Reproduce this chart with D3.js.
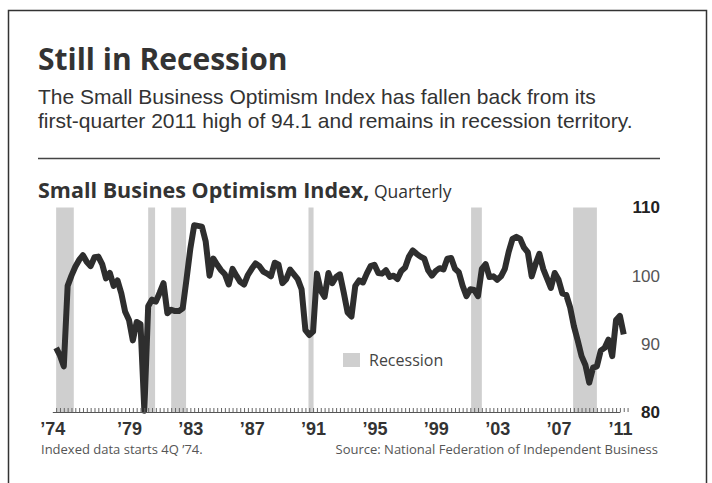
<!DOCTYPE html>
<html><head><meta charset="utf-8">
<script src="https://cdn.jsdelivr.net/npm/d3@7/dist/d3.min.js"></script>
<style>
body{margin:0;background:#fff}
svg{display:block}
</style>
</head><body>
<svg id="chart" width="712" height="483"></svg>
<script>
// ---- data ----
const startQuarter = 1974.25;   // first plotted quarter (decimal year, quarter start)
const indexValues = [
  89.4, 88.3, 86.7,                                    // 1974 Q2-Q4
  98.5, 100.0, 101.3, 102.3,                           // 1975
  103.0, 102.0, 101.4, 102.7,                          // 1976
  102.8, 101.7, 99.6, 100.4,                           // 1977
  98.5, 99.3, 97.4, 94.7,                              // 1978
  93.5, 90.5, 93.2, 92.9,                              // 1979
  80.2, 95.5, 96.5, 96.2,                              // 1980
  97.5, 98.9, 94.5, 95.0,                              // 1981
  94.8, 94.8, 95.2, 99.5,                              // 1982
  104.0, 107.4, 107.3, 107.2,                          // 1983
  105.0, 100.0, 102.5, 101.6,                          // 1984
  100.8, 100.2, 98.7, 101.0,                           // 1985
  100.0, 99.1, 98.7, 100.1,                            // 1986
  101.0, 101.8, 101.4, 100.6,                          // 1987
  100.3, 99.9, 101.9, 101.6,                           // 1988
  98.9, 99.5, 100.9, 100.2,                            // 1989
  99.5, 98.0, 92.0, 91.3,                              // 1990
  91.8, 100.3, 97.8, 96.9,                             // 1991
  100.4, 98.9, 99.8, 100.2,                            // 1992
  97.5, 94.6, 94.0, 98.5,                              // 1993
  99.3, 99.0, 100.3, 101.4,                            // 1994
  101.6, 100.4, 100.3, 100.8,                          // 1995
  99.8, 100.0, 99.5, 100.7,                            // 1996
  101.2, 102.8, 103.7, 103.2,                          // 1997
  102.8, 102.5, 100.8, 100.0,                          // 1998
  100.7, 101.1, 100.9, 102.5,                          // 1999
  102.6, 101.0, 100.5, 98.5,                           // 2000
  97.0, 98.0, 97.9, 97.0,                              // 2001
  101.0, 101.7, 99.8, 99.9,                            // 2002
  99.4, 99.9, 101.0, 103.5,                            // 2003
  105.4, 105.7, 105.4, 104.1,                          // 2004
  103.4, 99.9, 101.7, 103.2,                           // 2005
  101.0, 99.6, 98.2, 100.4,                            // 2006
  99.4, 97.4, 97.2, 95.4,                              // 2007
  92.6, 90.5, 88.2, 86.9,                              // 2008
  84.3, 86.5, 86.7, 89.0,                              // 2009
  89.4, 90.6, 88.2, 93.5,                              // 2010
  94.1, 91.4                                           // 2011 Q1-Q2
];
const recessions = [
  [1973.9, 1975.4],
  [1980.25, 1980.7],
  [1981.75, 1982.72],
  [1990.7, 1991.03],
  [2001.3, 2002.0],
  [2007.95, 2009.5]
];
const xLabelYears = [1974, 1979, 1983, 1987, 1991, 1995, 1999, 2003, 2007, 2011];
const xLabels = ["’74", "’79", "’83", "’87", "’91", "’95", "’99", "’03", "’07", "’11"];
const yTickValues = [80, 90, 100, 110];
const yBoldTicks = [80, 110];

const titleText = "Still in Recession";
const subtitleLines = [
  "The Small Business Optimism Index has fallen back from its",
  "first-quarter 2011 high of 94.1 and remains in recession territory."
];
const chartTitle = "Small Busines Optimism Index,";
const chartTitleSuffix = " Quarterly";
const legendLabel = "Recession";
const noteText = "Indexed data starts 4Q ’74.";
const sourceText = "Source: National Federation of Independent Business";

// ---- layout ----
const svg = d3.select("#chart");
const axisStart = 1974.25, axisEnd = 2011.5;
const x = d3.scaleLinear().domain([1974, 2011]).range([52.3, 619.9]);
const y = d3.scaleLinear().domain([80, 110]).range([412, 207.5]);

// frame
svg.append("rect").attr("x", 8.5).attr("y", 10.5).attr("width", 698).attr("height", 490)
  .attr("fill", "none").attr("stroke", "#333").attr("stroke-width", 1.5);

// headings
svg.append("text").attr("x", 38).attr("y", 70)
  .attr("font-family", "'Open Sans', sans-serif").attr("font-weight", 700)
  .attr("font-size", 30).attr("fill", "#333").text(titleText);
svg.append("g").selectAll("text").data(subtitleLines).join("text")
  .attr("x", 38).attr("y", (d, i) => 104 + i * 24)
  .attr("font-family", "'Liberation Sans', Arial, sans-serif")
  .attr("font-size", 21).attr("fill", "#333").text(d => d);
svg.append("line").attr("x1", 38).attr("x2", 660).attr("y1", 158.5).attr("y2", 158.5)
  .attr("stroke", "#444").attr("stroke-width", 1.5);
const ct = svg.append("text").attr("x", 38).attr("y", 198)
  .attr("font-family", "'Open Sans', sans-serif").attr("fill", "#333");
ct.append("tspan").attr("font-weight", 700).attr("font-size", 21.5).text(chartTitle);
ct.append("tspan").attr("font-size", 17.5).text(chartTitleSuffix);

// recession bands
const plot = svg.append("g");
plot.selectAll("rect.rec").data(recessions).join("rect").attr("class", "rec")
  .attr("x", d => x(Math.max(d[0], axisStart)))
  .attr("width", d => x(d[1]) - x(Math.max(d[0], axisStart)))
  .attr("y", y(110)).attr("height", y(80) - y(110))
  .attr("fill", "#cfcfcf");

// x-axis quarterly comb
const quarterTicks = d3.range(0, Math.round((axisEnd - axisStart) * 4) + 1).map(i => axisStart + i / 4);
const xComb = svg.append("g").attr("transform", `translate(0,${y(80)})`)
  .call(d3.axisBottom(x).tickValues(quarterTicks).tickSizeInner(-4).tickSizeOuter(0).tickFormat(""));
xComb.select(".domain").attr("stroke", "#555");
xComb.selectAll(".tick line").attr("stroke", "#666");

// x labels
const xLab = svg.append("g").attr("transform", `translate(0,${y(80)})`)
  .call(d3.axisBottom(x).tickValues(xLabelYears).tickSize(0).tickPadding(10)
    .tickFormat((d, i) => xLabels[i]));
xLab.select(".domain").remove();
xLab.selectAll("text").attr("font-family", "'Liberation Sans', Arial, sans-serif")
  .attr("font-weight", 700).attr("font-size", 18).attr("fill", "#333");

// y labels
const yLab = svg.append("g").attr("transform", "translate(660,0)")
  .call(d3.axisRight(y).tickValues(yTickValues).tickSize(0).tickPadding(0));
yLab.select(".domain").remove();
yLab.selectAll("text").attr("text-anchor", "end")
  .attr("font-family", "'Liberation Sans', Arial, sans-serif")
  .attr("font-size", 17)
  .attr("font-weight", d => yBoldTicks.includes(d) ? 700 : 400)
  .attr("fill", d => yBoldTicks.includes(d) ? "#222" : "#555");

// line
const line = d3.line().x((d, i) => x(startQuarter + i / 4)).y(d => y(d));
plot.append("path").datum(indexValues).attr("d", line)
  .attr("fill", "none").attr("stroke", "#2e2e2e").attr("stroke-width", 6)
  .attr("stroke-linejoin", "round").attr("stroke-linecap", "butt");

// legend
const lg = svg.append("g").attr("transform", "translate(343,353)");
lg.append("rect").attr("width", 17).attr("height", 14).attr("fill", "#cfcfcf");
lg.append("text").attr("x", 26).attr("y", 13).attr("font-family", "'Open Sans', sans-serif")
  .attr("font-size", 16).attr("fill", "#444").text(legendLabel);

// footnotes
svg.append("text").attr("x", 41).attr("y", 454).attr("font-family", "'Open Sans', sans-serif")
  .attr("font-size", 13).attr("fill", "#555").text(noteText);
svg.append("text").attr("x", 658).attr("y", 454).attr("text-anchor", "end")
  .attr("font-family", "'Open Sans', sans-serif")
  .attr("font-size", 13).attr("fill", "#555").text(sourceText);
</script>
</body></html>
